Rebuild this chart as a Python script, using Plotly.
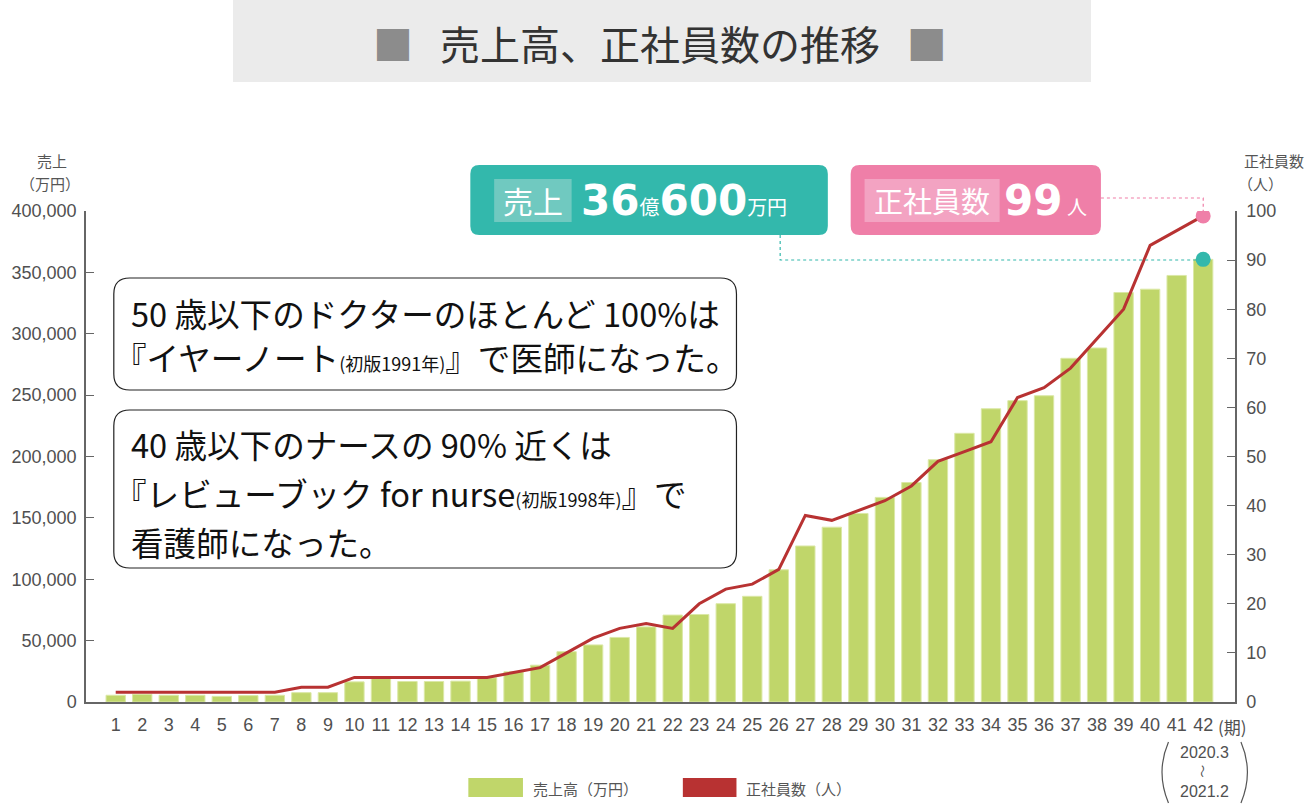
import plotly.graph_objects as go

# データ (万円 / 人)
periods = list(range(1, 43))
sales = [5500, 6300, 5500, 5500, 4600, 5200, 5500, 7600, 7600, 16400,
         19100, 16700, 16700, 17000, 19700, 24600, 30000, 41000, 46500, 52600,
         61200, 70800, 71300, 80100, 86100, 107700, 127100, 142400, 153600, 166700,
         178800, 197400, 218900, 238900, 245500, 249500, 280000, 288400, 333600, 336300,
         347500, 360600]
staff = [2, 2, 2, 2, 2, 2, 2, 3, 3, 5,
         5, 5, 5, 5, 5, 6, 7, 10, 13, 15,
         16, 15, 20, 23, 24, 27, 38, 37, 39, 41,
         44, 49, 51, 53, 62, 64, 68, 74, 80, 93,
         96, 99]
tick_text = [str(p) for p in periods]

W, H = 1314, 804
L, R, T, B = 78, 1235, 211, 702  # plot area in px
FONT = "Noto Sans CJK JP"
NUM_FONT = "Liberation Sans, Noto Sans CJK JP"
GREEN = "#c0d66a"
RED = "#b83232"
TEAL = "#33b8ac"
PINK = "#ef7fa8"


def X(px):
    return (px - L) / (R - L)


def Y(py):
    return (B - py) / (B - T)


def rrect(x0, y0, x1, y1, r):
    return (f"M {X(x0 + r)},{Y(y0)} L {X(x1 - r)},{Y(y0)} Q {X(x1)},{Y(y0)} {X(x1)},{Y(y0 + r)} "
            f"L {X(x1)},{Y(y1 - r)} Q {X(x1)},{Y(y1)} {X(x1 - r)},{Y(y1)} "
            f"L {X(x0 + r)},{Y(y1)} Q {X(x0)},{Y(y1)} {X(x0)},{Y(y1 - r)} "
            f"L {X(x0)},{Y(y0 + r)} Q {X(x0)},{Y(y0)} {X(x0 + r)},{Y(y0)} Z")


fig = go.Figure()

fig.add_trace(go.Bar(
    x=periods, y=sales, width=0.73,
    marker=dict(color=GREEN, line=dict(color="#dbe8a6", width=1)),
    name="売上高（万円）", yaxis="y"
))
fig.add_trace(go.Scatter(
    x=periods, y=staff, mode="lines",
    line=dict(color=RED, width=3),
    name="正社員数（人）", yaxis="y2"
))
# 最終期のマーカー
fig.add_trace(go.Scatter(x=[periods[-1]], y=[staff[-1]], mode="markers",
                         marker=dict(color=PINK, size=15), yaxis="y2"))
fig.add_trace(go.Scatter(x=[periods[-1]], y=[sales[-1]], mode="markers",
                         marker=dict(color=TEAL, size=15), yaxis="y"))

shapes = []
ann = []

# タイトル
shapes.append(dict(type="rect", xref="paper", yref="paper", x0=X(226), x1=X(1090), y0=Y(82), y1=Y(0),
                   fillcolor="#ebebeb", line=dict(width=0), layer="below"))
ann.append(dict(x=X(656), y=Y(43),
                text="<span style='color:#8c8c8c'>■</span>   売上高、正社員数の推移   <span style='color:#8c8c8c'>■</span>",
                font=dict(size=40, color="#333333", family=FONT)))

# 吹き出しボックス
shapes.append(dict(type="path", xref="paper", yref="paper", path=rrect(106, 278, 733, 390, 16),
                   fillcolor="white", line=dict(color="#222222", width=1.2), layer="above"))
shapes.append(dict(type="path", xref="paper", yref="paper", path=rrect(106, 410, 733, 568, 16),
                   fillcolor="white", line=dict(color="#222222", width=1.2), layer="above"))
sm = "<span style='font-size:18px'>"
box_lines = [
    (121, 312, "50 歳以下のドクターのほとんど 100%は"),
    (104, 356, f"『イヤーノート{sm}(初版1991年)</span>』で医師になった。"),
    (121, 443, "40 歳以下のナースの 90% 近くは"),
    (104, 492, f"『レビューブック for nurse{sm}(初版1998年)</span>』で"),
    (121, 541, "看護師になった。"),
]
for xx, yy, t in box_lines:
    ann.append(dict(x=X(xx), y=Y(yy), text=t, xanchor="left",
                    font=dict(size=32.6, color="#111111", family=FONT)))

# 売上 / 正社員数 ラベル
shapes.append(dict(type="path", xref="paper", yref="paper", path=rrect(465, 165, 825, 235, 9),
                   fillcolor=TEAL, line=dict(width=0), layer="above"))
shapes.append(dict(type="rect", xref="paper", yref="paper", x0=X(489), x1=X(567), y0=Y(222), y1=Y(179),
                   fillcolor="#70c9c0", line=dict(width=0), layer="above"))
shapes.append(dict(type="path", xref="paper", yref="paper", path=rrect(848, 165, 1100, 235, 9),
                   fillcolor=PINK, line=dict(width=0), layer="above"))
shapes.append(dict(type="rect", xref="paper", yref="paper", x0=X(862), x1=X(998), y0=Y(222), y1=Y(179),
                   fillcolor="#f3a3c2", line=dict(width=0), layer="above"))
big = "DejaVu Sans, Noto Sans CJK JP"
unit = f"<span style='font-size:20px;font-family:{FONT}'>"
ann.append(dict(x=X(528), y=Y(200), text="売上", font=dict(size=30, color="white", family=FONT)))
ann.append(dict(x=X(574), y=Y(201), xanchor="left",
                text=f"<b>36</b>{unit}億</span><b>600</b>{unit}万円</span>",
                font=dict(size=42, color="white", family=big)))
ann.append(dict(x=X(930), y=Y(200), text="正社員数", font=dict(size=29, color="white", family=FONT)))
ann.append(dict(x=X(1000), y=Y(201), xanchor="left",
                text=f"<b>99</b>{unit} 人</span>",
                font=dict(size=42, color="white", family=big)))

# 点線
dline = dict(width=1.2, dash="dot")
shapes.append(dict(type="path", xref="paper", yref="paper",
                   path=f"M {X(777)},{Y(235)} L {X(777)},{Y(260)} L {X(1203)},{Y(260)}",
                   line=dict(color=TEAL, **dline)))
shapes.append(dict(type="path", xref="paper", yref="paper",
                   path=f"M {X(1100)},{Y(198)} L {X(1203)},{Y(198)} L {X(1203)},{Y(212)}",
                   line=dict(color=PINK, **dline)))

# 軸タイトル
ax_font = dict(size=15, color="#555555", family=FONT)
ann.append(dict(x=X(44), y=Y(160), text="売上", font=ax_font))
ann.append(dict(x=X(42), y=Y(183), text="（万円）", font=ax_font))
ann.append(dict(x=X(1242), y=Y(160), text="正社員数", xanchor="left", font=ax_font))
ann.append(dict(x=X(1236), y=Y(183), text="（人）", xanchor="left", font=ax_font))

# 期・期間
tick_font = dict(size=18, color="#505050", family=NUM_FONT)
ann.append(dict(x=X(1216), y=Y(726), text="(期)", xanchor="left",
                font=dict(size=17, color="#505050", family=FONT)))
ann.append(dict(x=X(1204), y=Y(752), text="2020.3", font=dict(size=16, color="#505050", family=NUM_FONT)))
ann.append(dict(x=X(1204), y=Y(771), text="〜", textangle=90, font=dict(size=13, color="#505050", family=FONT)))
ann.append(dict(x=X(1204), y=Y(791), text="2021.2", font=dict(size=16, color="#505050", family=NUM_FONT)))
shapes.append(dict(type="path", xref="paper", yref="paper",
                   path=f"M {X(1168)},{Y(742)} Q {X(1155)},{Y(772)} {X(1168)},{Y(803)}",
                   line=dict(color="#555555", width=1.2)))
shapes.append(dict(type="path", xref="paper", yref="paper",
                   path=f"M {X(1241)},{Y(742)} Q {X(1254)},{Y(772)} {X(1241)},{Y(803)}",
                   line=dict(color="#555555", width=1.2)))

# 凡例
shapes.append(dict(type="rect", xref="paper", yref="paper", x0=X(463), x1=X(518), y0=Y(797), y1=Y(778),
                   fillcolor=GREEN, line=dict(width=0)))
shapes.append(dict(type="rect", xref="paper", yref="paper", x0=X(679), x1=X(733), y0=Y(797), y1=Y(778),
                   fillcolor=RED, line=dict(width=0)))
leg_font = dict(size=15, color="#555555", family=FONT)
ann.append(dict(x=X(526), y=Y(788), text="売上高（万円）", xanchor="left", font=leg_font))
ann.append(dict(x=X(741), y=Y(788), text="正社員数（人）", xanchor="left", font=leg_font))

for a in ann:
    a.setdefault("xref", "paper")
    a.setdefault("yref", "paper")
    a.setdefault("showarrow", False)
    a.setdefault("xanchor", "center")
    a.setdefault("yanchor", "middle")

fig.update_layout(
    width=W, height=H,
    margin=dict(l=L, r=W - R, t=T, b=H - B),
    plot_bgcolor="white", paper_bgcolor="white",
    showlegend=False,
    font=dict(family=FONT),
    xaxis=dict(range=[-0.12, 43.2], tickvals=periods, ticktext=tick_text,
               showgrid=False, zeroline=False, showline=True, linecolor="#666666", linewidth=1.5,
               ticks="", tickfont=tick_font, ticklabelstandoff=6),
    yaxis=dict(range=[0, 400000], dtick=50000, tickformat=",d",
               showgrid=False, zeroline=False, showline=True, linecolor="#666666", linewidth=1.5,
               ticks="inside", ticklen=8, tickcolor="#666666", tickfont=tick_font, ticklabelstandoff=4),
    yaxis2=dict(range=[0, 100], dtick=10, overlaying="y", side="right",
                showgrid=False, zeroline=False, showline=True, linecolor="#666666", linewidth=1.5,
                ticks="inside", ticklen=8, tickcolor="#666666", tickfont=tick_font, ticklabelstandoff=6),
    shapes=shapes,
    annotations=ann,
)

# ページ余白をなくして図を左上に合わせる
fig.write_html("out.html", config={"displayModeBar": False},
               post_script="document.body.style.margin='0px';")
